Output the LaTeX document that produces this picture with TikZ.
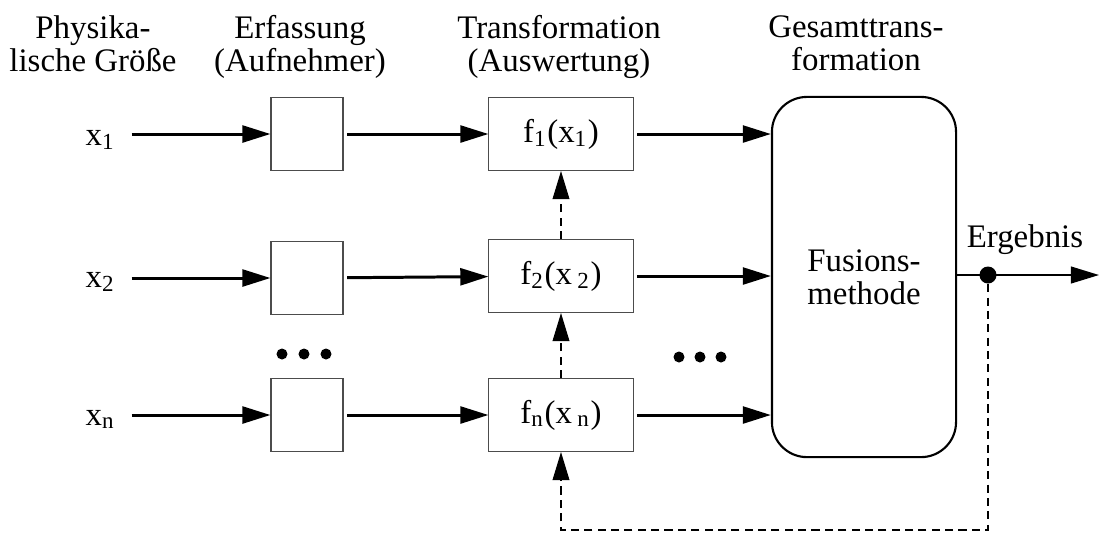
\documentclass[tikz,border=0pt]{standalone}
\usepackage{fontspec}
\setmainfont{Liberation Serif}
\usetikzlibrary{arrows.meta}

\begin{document}
\begin{tikzpicture}[
        x=0.01cm, y=-0.01cm,
        >={Triangle[length=8pt,width=4.8pt]},
        every node/.style={font=\fontsize{9.35}{9.35}\selectfont},
        head/.style={align=center, anchor=north, inner sep=0pt},
        inp/.style={anchor=base east, inner xsep=3.4pt, inner ysep=0pt},
        sensor/.style={draw=black!70, line width=0.3pt, inner sep=0pt,
                       minimum width=0.72cm, minimum height=0.73cm},
        evalbox/.style={sensor, minimum width=1.44cm},
        fusion/.style={draw, line width=0.6pt, rounded corners=0.35cm,
                       minimum width=1.84cm, minimum height=3.6cm, align=center},
        sig/.style={->, line width=0.85pt, shorten <=1pt},
        fb/.style={->, line width=0.3pt, dash pattern=on 2.3pt off 1.5pt}
      ]
        \useasboundingbox (0,0) rectangle (1099,532);

        \node[head] (hphys)  at (93,15)  {Physika-\\lische Größe};
        \node[head] (hsens)  at (300,15) {Erfassung\\(Aufnehmer)};
        \node[head] (htrans) at (559,15) {Transformation\\(Auswertung)};
        \node[head] (hall)   at (856,15) {Gesamttrans-\\formation};

        \node[inp] (x1) at (128,145) {x\textsubscript{1}};
        \node[inp] (x2) at (128,287) {x\textsubscript{2}};
        \node[inp] (xn) at (128,425) {x\textsubscript{n}};

        \node[sensor] (a1) at (307,134) {};
        \node[sensor] (a2) at (307,278) {};
        \node[sensor] (an) at (307,415) {};

        \node[evalbox] (f1) at (561,134) {f\textsubscript{1}(x\textsubscript{1})};
        \node[evalbox] (f2) at (561,276) {f\textsubscript{2}(x\,\textsubscript{2})};
        \node[evalbox] (fn) at (561,415) {f\textsubscript{n}(x\,\textsubscript{n})};

        \node[fusion] (fus) at (864,277) {Fusions-\\methode};

        \node[circle, fill, inner sep=0pt, minimum size=0.17cm] (dot) at (988,275) {};
        \node[anchor=base] (res) at (1025,247) {Ergebnis};
        \coordinate (out) at (1099,275);
        \coordinate (back) at (988,530);

        \draw[sig] (x1.east |- a1) -- (a1);
        \draw[sig] (x2.east |- a2) -- (a2);
        \draw[sig] (xn.east |- an) -- (an);
        \draw[sig] (a1) -- (f1);
        \draw[sig] (a2) -- (f2);
        \draw[sig] (an) -- (fn);
        \draw[sig] (f1) -- (f1 -| fus.west);
        \draw[sig] (f2) -- (f2 -| fus.west);
        \draw[sig] (fn) -- (fn -| fus.west);

        \draw[fb] (f2) -- (f1);
        \draw[fb] (fn) -- (f2);
        \draw[fb] (dot) -- (back) -| (fn);

        \draw[->, line width=0.45pt] (fus.east |- dot) -- (out);

        \foreach \xd in {282,304,326}
          \fill (\xd,354) circle[radius=0.055cm];
        \foreach \xd in {679,700,721}
          \fill (\xd,357) circle[radius=0.055cm];
      \end{tikzpicture}
\end{document}
